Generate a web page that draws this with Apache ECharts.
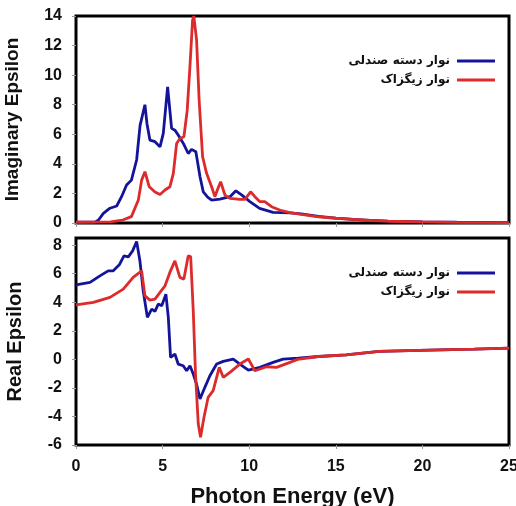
<!DOCTYPE html>
<html>
<head>
<meta charset="utf-8">
<script src="https://cdn.jsdelivr.net/npm/echarts@6/dist/echarts.min.js"></script>
<style>
  html, body { margin: 0; padding: 0; background: #fff; }
  #chart { width: 516px; height: 506px; }
</style>
</head>
<body>
<div id="chart"></div>
<script>
// legend names (Persian)
const armName = 'نوار دسته صندلی'
const zigName = 'نوار زیگزاک'

// Imaginary epsilon
const imArmE = [0, 1.1, 1.3, 1.58, 1.96, 2.35, 2.63, 2.92, 3.2, 3.5, 3.7, 3.98, 4.1, 4.27, 4.56, 4.85, 5.04, 5.29, 5.52, 5.71, 5.9, 6.19, 6.48, 6.67, 6.92, 7.16, 7.35, 7.6, 7.83, 8.31, 8.89, 9.23, 9.56, 10.04, 10.6, 11.38, 12.35, 13, 14, 15, 16, 17, 18, 20, 22, 25]
const imArmV = [0.05, 0.05, 0.2, 0.65, 1.0, 1.15, 1.78, 2.57, 2.9, 4.26, 6.6, 8.0, 6.7, 5.6, 5.5, 5.15, 6.06, 9.2, 6.4, 6.28, 5.95, 5.4, 4.7, 4.98, 4.82, 3.13, 2.1, 1.75, 1.55, 1.62, 1.78, 2.18, 1.9, 1.44, 0.99, 0.72, 0.68, 0.62, 0.45, 0.33, 0.25, 0.18, 0.13, 0.08, 0.05, 0.03]
const imZigE = [0, 2.0, 2.7, 3.2, 3.6, 3.79, 3.98, 4.23, 4.56, 4.85, 5.14, 5.42, 5.62, 5.81, 6.0, 6.23, 6.42, 6.58, 6.73, 6.8, 6.96, 7.11, 7.31, 7.54, 7.83, 8.02, 8.16, 8.35, 8.6, 8.89, 9.46, 9.75, 10.08, 10.33, 10.62, 10.9, 11.29, 11.87, 12.35, 13, 14, 15, 16, 17, 18, 20, 22, 25]
const imZigV = [0.05, 0.07, 0.2, 0.43, 1.55, 2.9, 3.47, 2.45, 2.1, 1.93, 2.23, 2.45, 3.35, 5.38, 5.72, 5.83, 7.6, 10.6, 13.7, 14, 12.4, 8.3, 4.48, 3.36, 2.45, 1.78, 2.23, 2.79, 1.89, 1.67, 1.6, 1.6, 2.11, 1.78, 1.44, 1.44, 1.1, 0.83, 0.7, 0.58, 0.42, 0.32, 0.24, 0.17, 0.12, 0.07, 0.04, 0.02]

// Real epsilon
const reArmE = [0, 0.81, 1.38, 1.86, 2.15, 2.5, 2.77, 3.02, 3.27, 3.5, 3.69, 3.88, 4.12, 4.37, 4.56, 4.75, 4.95, 5.19, 5.33, 5.46, 5.71, 5.9, 6.19, 6.39, 6.58, 6.77, 6.96, 7.16, 7.44, 7.73, 8.12, 8.5, 9.08, 9.46, 9.95, 10.62, 11.38, 11.96, 12.83, 14, 15.6, 17.5, 20.4, 23, 25]
const reArmV = [5.22, 5.39, 5.85, 6.2, 6.2, 6.62, 7.25, 7.18, 7.6, 8.26, 6.9, 4.8, 2.94, 3.52, 3.36, 3.87, 3.75, 4.57, 2.94, 0.14, 0.37, -0.33, -0.45, -0.8, -0.45, -1.03, -1.73, -2.78, -1.96, -1.15, -0.33, -0.14, 0.02, -0.33, -0.75, -0.56, -0.21, 0.02, 0.09, 0.2, 0.32, 0.56, 0.65, 0.72, 0.79]
const reZigE = [0, 1.0, 1.96, 2.73, 3.3, 3.79, 3.98, 4.27, 4.56, 4.85, 5.14, 5.42, 5.71, 6.0, 6.23, 6.48, 6.62, 6.77, 6.9, 7.06, 7.19, 7.39, 7.63, 7.92, 8.27, 8.5, 8.89, 9.46, 9.95, 10.33, 11.0, 11.58, 12.35, 12.8, 14, 15.6, 17.5, 20.4, 23, 25]
const reZigV = [3.82, 3.99, 4.34, 4.92, 5.74, 6.2, 4.45, 4.15, 4.22, 4.69, 5.15, 6.09, 6.9, 5.74, 5.62, 7.25, 7.2, 3.4, -1.03, -4.53, -5.46, -4.06, -2.66, -2.19, -0.56, -1.26, -0.91, -0.33, 0.02, -0.8, -0.52, -0.56, -0.21, 0.0, 0.2, 0.32, 0.56, 0.65, 0.72, 0.79]

const blue = '#14149b'
const red = '#dd2a2a'
const font = 'Liberation Sans, Arial, sans-serif'

const zip = (xs, ys) => xs.map((x, i) => [x, ys[i]])

const labelStyle = { color: '#111', fontSize: 16, fontWeight: 'bold', fontFamily: font }
const tickStyle = { show: true, inside: false, length: 4, lineStyle: { color: '#999', width: 1 } }

const xBase = {
    type: 'value',
    min: 0,
    max: 25,
    interval: 5,
    axisLine: { show: false, onZero: false },
    axisTick: tickStyle,
    splitLine: { show: false }
}
const yBase = {
    type: 'value',
    interval: 2,
    nameLocation: 'middle',
    axisLine: { show: false, onZero: false },
    axisTick: tickStyle,
    splitLine: { show: false },
    axisLabel: { ...labelStyle, margin: 14 }
}
const legendBase = {
    orient: 'vertical',
    align: 'right',
    right: 21,
    padding: 0,
    icon: 'rect',
    itemWidth: 38,
    itemHeight: 3,
    itemGap: 5,
    textStyle: { color: '#111', fontSize: 12, fontWeight: 'bold', fontFamily: 'DejaVu Sans', lineHeight: 14, padding: [0, 2, 0, 0] },
    data: [armName, zigName]
}
const lineBase = { type: 'line', showSymbol: false, symbol: 'none', animation: false }
const gridBase = { left: 76, width: 433, height: 207, show: true, borderColor: '#000', borderWidth: 3, backgroundColor: 'transparent', outerBoundsMode: 'none', containLabel: false }

const option = {
    animation: false,
    backgroundColor: '#fff',
    grid: [
        { ...gridBase, top: 16 },
        { ...gridBase, top: 238 }
    ],
    legend: [
        { ...legendBase, top: 54 },
        { ...legendBase, top: 266 }
    ],
    xAxis: [
        { ...xBase, gridIndex: 0, axisLabel: { show: false } },
        {
            ...xBase,
            gridIndex: 1,
            axisLabel: { ...labelStyle, margin: 14 },
            name: 'Photon Energy (eV)',
            nameLocation: 'middle',
            nameGap: 41,
            nameTextStyle: { color: '#111', fontSize: 22, fontWeight: 'bold', fontFamily: font }
        }
    ],
    yAxis: [
        {
            ...yBase,
            gridIndex: 0,
            min: 0,
            max: 14,
            name: 'Imaginary Epsilon',
            nameGap: 54,
            nameTextStyle: { color: '#111', fontSize: 19, fontWeight: 'bold', fontFamily: font }
        },
        {
            ...yBase,
            gridIndex: 1,
            min: -6,
            max: 8.5,
            axisLabel: { ...labelStyle, margin: 14, showMaxLabel: false },
            name: 'Real Epsilon',
            nameGap: 51,
            nameTextStyle: { color: '#111', fontSize: 20, fontWeight: 'bold', fontFamily: font }
        }
    ],
    series: [
        { ...lineBase, name: armName, xAxisIndex: 0, yAxisIndex: 0, data: zip(imArmE, imArmV), lineStyle: { color: blue, width: 2.8 }, itemStyle: { color: blue } },
        { ...lineBase, name: zigName, xAxisIndex: 0, yAxisIndex: 0, data: zip(imZigE, imZigV), lineStyle: { color: red, width: 2.8 }, itemStyle: { color: red } },
        { ...lineBase, name: armName, xAxisIndex: 1, yAxisIndex: 1, data: zip(reArmE, reArmV), lineStyle: { color: blue, width: 2.8 }, itemStyle: { color: blue } },
        { ...lineBase, name: zigName, xAxisIndex: 1, yAxisIndex: 1, data: zip(reZigE, reZigV), lineStyle: { color: red, width: 2.8 }, itemStyle: { color: red } }
    ]
}

const chart = echarts.init(document.getElementById('chart'))
chart.setOption(option)
</script>
</body>
</html>
